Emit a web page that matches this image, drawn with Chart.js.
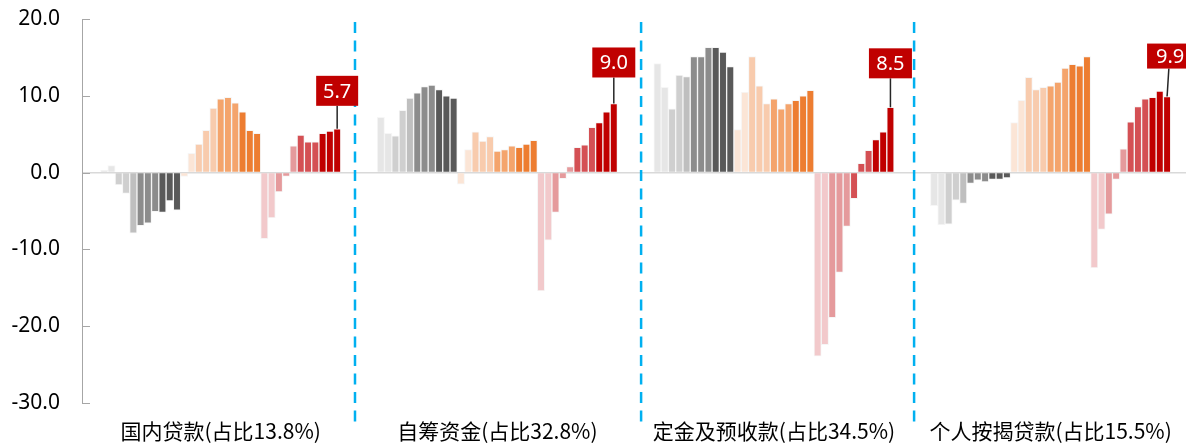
<!DOCTYPE html>
<html>
<head>
<meta charset="utf-8">
<script src="https://cdn.jsdelivr.net/npm/chart.js@4.4.1/dist/chart.umd.min.js"></script>
<style>
  html, body { margin: 0; padding: 0; background: #ffffff; }
  #wrap { width: 1186px; height: 443px; position: relative; }
</style>
</head>
<body>
<div id="wrap"><canvas id="chart"></canvas></div>
<script>
// ---------------- DATA ----------------
const groupLabels = ['国内贷款(占比13.8%)', '自筹资金(占比32.8%)', '定金及预收款(占比34.5%)', '个人按揭贷款(占比15.5%)'];

// each array: 11 grey bars, 11 orange bars, 11 red bars
const domesticLoans = [
  0.3, 0.9, -1.6, -2.7, -7.9, -6.9, -6.6, -5.1, -5.2, -3.7, -4.9,
  -0.5, 2.5, 3.7, 5.5, 8.4, 9.6, 9.8, 9.1, 7.9, 5.5, 5.1,
  -8.6, -5.9, -2.5, -0.5, 3.5, 4.9, 4.0, 4.0, 5.1, 5.4, 5.7
];
const selfRaisedFunds = [
  7.2, 5.1, 4.8, 8.1, 9.7, 10.4, 11.2, 11.4, 10.8, 10.0, 9.7,
  -1.5, 3.0, 5.3, 4.1, 4.7, 2.8, 3.0, 3.5, 3.3, 3.7, 4.2,
  -15.4, -8.8, -5.2, -0.8, 0.8, 3.3, 3.6, 5.9, 6.5, 7.9, 9.0
];
const depositsAndAdvances = [
  14.2, 11.1, 8.3, 12.7, 12.5, 15.1, 15.1, 16.3, 16.3, 15.7, 13.8,
  5.6, 10.5, 15.1, 11.3, 9.0, 9.6, 8.3, 9.0, 9.4, 10.0, 10.7,
  -23.9, -22.4, -18.9, -13.0, -7.0, -3.4, 1.2, 2.9, 4.3, 5.3, 8.5
];
const mortgageLoans = [
  -4.3, -6.8, -6.7, -3.6, -4.0, -1.4, -1.0, -1.2, -0.9, -0.9, -0.7,
  6.5, 9.4, 12.4, 10.8, 11.1, 11.3, 11.8, 13.6, 14.1, 13.9, 15.1,
  -12.4, -7.4, -5.4, -0.9, 3.1, 6.6, 8.6, 9.6, 9.8, 10.6, 9.9
];
const yTickValues = [20, 10, 0, -10, -20, -30];

// ---------------- STYLE / LAYOUT ----------------
const groups = [domesticLoans, selfRaisedFunds, depositsAndAdvances, mortgageLoans];
const barPalette = [
  '#e6e6e6', '#e6e6e6', '#cfcfcf', '#cfcfcf', '#bfbfbf', '#8c8c8c', '#8c8c8c', '#8c8c8c', '#595959', '#595959', '#595959',
  '#fbe5d6', '#fbe5d6', '#f8cbad', '#f8cbad', '#f8cbad', '#f4a46c', '#f4a46c', '#f4a46c', '#ed7d31', '#ed7d31', '#ed7d31',
  '#f2c9cb', '#f2c9cb', '#e59a9c', '#e59a9c', '#e59a9c', '#d45054', '#d45054', '#d45054', '#c00000', '#c00000', '#c00000'
];
const GROUP_SLOTS = 38;
const GROUP_OFFSET = 2.55;
const X_MAX = 151.65;
const separatorPositions = [37.5, 76.8, 114.3];
const callouts = [
  { lead: 23, w: 42, h: 30, dx: 0, topDx: 0 },
  { lead: 26, w: 43, h: 30, dx: 0, topDx: 0 },
  { lead: 29, w: 43, h: 30, dx: 0, topDx: 0 },
  { lead: 28, w: 46, h: 25, dx: 3, topDx: 1.8 }
];
const numFont = '"Noto Sans", "DejaVu Sans", sans-serif';
const cjkFont = '"Noto Sans CJK SC", "Noto Sans", sans-serif';

const points = [];
const colors = [];
groups.forEach((arr, g) => {
  arr.forEach((v, i) => {
    points.push({ x: g * GROUP_SLOTS + GROUP_OFFSET + i + 0.5, y: v });
    colors.push(barPalette[i]);
  });
});
const groupCenters = groups.map((arr, g) => g * GROUP_SLOTS + GROUP_OFFSET + arr.length / 2);

const overlayPlugin = {
  id: 'overlay',
  afterDatasetsDraw(chart) {
    const ctx = chart.ctx;
    const xs = chart.scales.x, ys = chart.scales.y;
    const left = chart.chartArea.left;
    ctx.save();
    // inward y tick marks
    ctx.strokeStyle = '#a6a6a6';
    ctx.lineWidth = 1;
    yTickValues.forEach(v => {
      const py = Math.round(ys.getPixelForValue(v)) + 0.5;
      ctx.beginPath();
      ctx.moveTo(left, py);
      ctx.lineTo(left + 8, py);
      ctx.stroke();
    });
    // dashed separators
    ctx.strokeStyle = '#00b0f0';
    ctx.lineWidth = 2.5;
    ctx.setLineDash([11, 7.5]);
    separatorPositions.forEach(v => {
      const px = xs.getPixelForValue(v);
      ctx.beginPath();
      ctx.moveTo(px, 22);
      ctx.lineTo(px, 426);
      ctx.stroke();
    });
    ctx.setLineDash([]);
    // callouts on last bar of each group
    const meta = chart.getDatasetMeta(0);
    let idx = 0;
    groups.forEach((arr, g) => {
      idx += arr.length;
      const el = meta.data[idx - 1];
      const c = callouts[g];
      const value = arr[arr.length - 1];
      const boxBottom = el.y - c.lead;
      ctx.strokeStyle = '#262626';
      ctx.lineWidth = 1.5;
      ctx.beginPath();
      ctx.moveTo(el.x, el.y);
      ctx.lineTo(el.x + c.topDx, boxBottom);
      ctx.stroke();
      const cx = el.x + c.dx;
      ctx.fillStyle = '#c00000';
      ctx.fillRect(cx - c.w / 2, boxBottom - c.h, c.w, c.h);
      ctx.fillStyle = '#ffffff';
      ctx.font = '20px ' + numFont;
      ctx.textAlign = 'center';
      ctx.textBaseline = 'middle';
      ctx.fillText(value.toFixed(1), cx, boxBottom - c.h / 2 + 1);
    });
    ctx.restore();
  }
};

new Chart(document.getElementById('chart'), {
  type: 'bar',
  data: {
    datasets: [{
      data: points,
      backgroundColor: colors,
      borderColor: 'rgba(230,230,230,0.35)',
      borderWidth: 1,
      categoryPercentage: 1,
      barPercentage: 1
    }]
  },
  options: {
    responsive: true,
    maintainAspectRatio: false,
    animation: false,
    layout: { padding: { top: 19, right: 0, left: 0, bottom: 0 } },
    plugins: { legend: { display: false }, tooltip: { enabled: false } },
    scales: {
      x: {
        type: 'linear',
        offset: false,
        min: 0,
        max: X_MAX,
        grid: { display: false, drawTicks: false },
        border: { display: false },
        afterBuildTicks: s => { s.ticks = groupCenters.map(v => ({ value: v })); },
        afterFit: s => { s.height = 40; s.paddingLeft = 0; s.paddingRight = 0; },
        ticks: {
          autoSkip: false,
          maxRotation: 0,
          minRotation: 0,
          padding: 15,
          color: '#000000',
          font: { family: cjkFont, size: 21 },
          callback: (v, i) => groupLabels[i]
        }
      },
      y: {
        min: -30,
        max: 20,
        afterBuildTicks: s => { s.ticks = yTickValues.map(v => ({ value: v })); },
        afterFit: s => { s.width = 82; s.paddingTop = 0; s.paddingBottom = 0; },
        border: { display: true, color: '#a6a6a6', width: 1 },
        grid: {
          drawTicks: false,
          color: c => (c.tick && c.tick.value === 0) ? '#d9d9d9' : 'rgba(0,0,0,0)',
          lineWidth: 1.5
        },
        ticks: {
          padding: 22,
          color: '#000000',
          font: { family: numFont, size: 21 },
          callback: v => Number(v).toFixed(1)
        }
      }
    }
  },
  plugins: [overlayPlugin]
});
</script>
</body>
</html>
